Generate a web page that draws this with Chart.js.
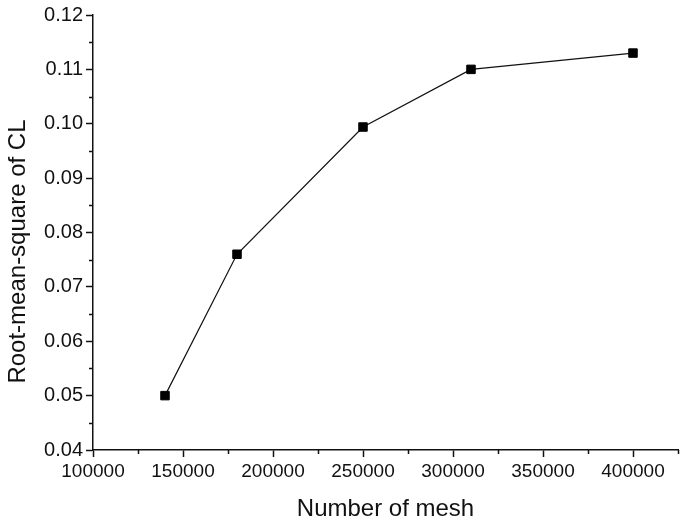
<!DOCTYPE html>
<html>
<head>
<meta charset="utf-8">
<script src="https://cdn.jsdelivr.net/npm/chart.js@4.4.1/dist/chart.umd.min.js"></script>
<style>
  html, body { margin: 0; padding: 0; background: #fff; }
  #wrap { width: 685px; height: 526px; }
</style>
</head>
<body>
<div id="wrap"><canvas id="chart"></canvas></div>
<script>
// mesh sizes and the RMS of CL
const meshCounts = [140000, 180000, 250000, 310000, 400000];
const rmsCL      = [0.0500, 0.0760, 0.0994, 0.1100, 0.1130];

const xMin = 100000, xMax = 425000, xStep = 25000;
const yMin = 0.04,   yMax = 0.12,   yStep = 0.005;

const yTitle = "Root-mean-square of CL";
const FONT = "'Liberation Sans', Arial, sans-serif";

const isMajorX = v => Math.round(v) % 50000 === 0;
const isMajorY = v => Math.round(v * 1000) % 10 === 0;

// short minor ticks between the labelled ones, plus the y title
// (drawn by hand so it can sit a bit lower than the centre of the axis)
const extras = {
  id: "extras",
  afterDraw(chart) {
    const ctx = chart.ctx;
    const xs = chart.scales.x, ys = chart.scales.y;
    ctx.save();
    ctx.strokeStyle = "#111";
    ctx.lineWidth = 1.5;
    ctx.beginPath();
    xs.ticks.forEach(t => {
      if (isMajorX(t.value)) return;
      const px = Math.round(xs.getPixelForValue(t.value)) + 0.5;
      ctx.moveTo(px, xs.top);
      ctx.lineTo(px, xs.top + 4);
    });
    ys.ticks.forEach(t => {
      if (isMajorY(t.value)) return;
      const py = Math.round(ys.getPixelForValue(t.value)) + 0.5;
      ctx.moveTo(ys.right, py);
      ctx.lineTo(ys.right - 4, py);
    });
    ctx.stroke();

    ctx.translate(18, ys.getPixelForValue(0.0765));
    ctx.rotate(-Math.PI / 2);
    ctx.fillStyle = "#111";
    ctx.font = "24px " + FONT;
    ctx.textAlign = "center";
    ctx.textBaseline = "middle";
    ctx.fillText(yTitle, 0, 0);
    ctx.restore();
  }
};

const points = meshCounts.map((m, i) => ({ x: m, y: rmsCL[i] }));

new Chart(document.getElementById("chart"), {
  type: "scatter",
  data: {
    datasets: [{
      data: points,
      showLine: true,
      borderColor: "#111",
      borderWidth: 1.2,
      pointStyle: "rect",
      pointRadius: 6,
      pointHoverRadius: 6,
      pointBackgroundColor: "#000",
      pointBorderColor: "#000",
      pointBorderWidth: 1
    }]
  },
  options: {
    responsive: true,
    maintainAspectRatio: false,
    animation: false,
    events: [],
    layout: { padding: { top: 14, right: 5, left: 0, bottom: 0 } },
    plugins: { legend: { display: false }, tooltip: { enabled: false } },
    scales: {
      x: {
        type: "linear",
        min: xMin, max: xMax,
        afterFit: s => { s.height = 76; },
        border: { display: true, color: "#111", width: 1.5 },
        grid: {
          drawOnChartArea: false,
          tickLength: 7,
          tickWidth: 1.5,
          tickColor: c => (c.tick && isMajorX(c.tick.value)) ? "#111" : "rgba(0,0,0,0)"
        },
        ticks: {
          stepSize: xStep,
          autoSkip: false,
          maxRotation: 0,
          padding: 3,
          color: "#111",
          font: { family: FONT, size: 19 },
          callback: v => isMajorX(v) ? String(v) : ""
        },
        title: {
          display: true,
          text: "Number of mesh",
          color: "#111",
          font: { family: FONT, size: 24 },
          padding: { top: 0, bottom: 2 }
        }
      },
      y: {
        type: "linear",
        min: yMin, max: yMax,
        afterFit: s => { s.width = 93; },
        border: { display: true, color: "#111", width: 1.5 },
        grid: {
          drawOnChartArea: false,
          tickLength: 7,
          tickWidth: 1.5,
          tickColor: c => (c.tick && isMajorY(c.tick.value)) ? "#111" : "rgba(0,0,0,0)"
        },
        ticks: {
          stepSize: yStep,
          autoSkip: false,
          padding: 3,
          color: "#111",
          font: { family: FONT, size: 20 },
          callback: v => isMajorY(v) ? v.toFixed(2) : ""
        },
        title: { display: false }
      }
    }
  },
  plugins: [extras]
});
</script>
</body>
</html>
